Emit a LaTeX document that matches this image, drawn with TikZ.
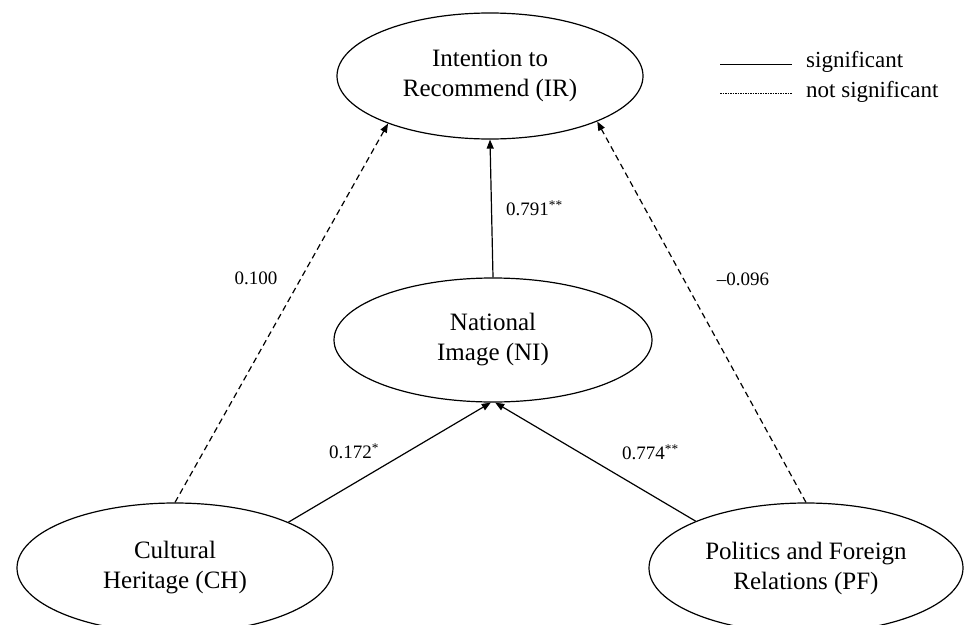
\documentclass[tikz,border=0pt]{standalone}
\usepackage{fontspec}
\setmainfont{Liberation Serif}
\usetikzlibrary{shapes.geometric,arrows.meta}
\begin{document}
\begin{tikzpicture}[x=1pt,y=-1pt,
  construct/.style={draw,line width=1.2pt,ellipse,inner sep=0pt,align=center,font=\fontsize{25}{30}\selectfont},
  pathlabel/.style={font=\fontsize{19}{20}\selectfont,inner sep=0pt},
  legendtext/.style={font=\fontsize{23}{24}\selectfont,inner sep=0pt,anchor=west},
  sig/.style={line width=1.2pt,-{Triangle[length=9pt,width=7pt]}},
  nonsig/.style={line width=1.2pt,dash pattern=on 6pt off 4pt,-{Triangle[length=9pt,width=7pt]}}]
\useasboundingbox (0,0) rectangle (966,624);
\clip (0,0) rectangle (966,624);
\node[construct,minimum width=306pt,minimum height=126pt] (IR) at (490,76) {Intention to\\Recommend (IR)};
\node[construct,minimum width=318pt,minimum height=124pt] (NI) at (493,340) {National\\Image (NI)};
\node[construct,minimum width=316pt,minimum height=130pt] (CH) at (175,568) {Cultural\\Heritage (CH)};
\node[construct,minimum width=314pt,minimum height=130pt] (PF) at (806,568) {Politics and Foreign\\Relations (PF)};
\draw[sig] (NI.north) -- (IR.south);
\draw[sig] (CH.22) -- (NI.268);
\draw[sig] (PF.157) -- (NI.272);
\draw[nonsig] (CH.north) -- (IR.205);
\draw[nonsig] (PF.north) -- (IR.-23);
\node[pathlabel,anchor=west] (l1) at (506,208) {0.791\textsuperscript{**}};
\node[pathlabel] (l2) at (256,278) {0.100};
\node[pathlabel] (l3) at (743,279) {–0.096};
\node[pathlabel,anchor=west] (l4) at (329,451) {0.172\textsuperscript{*}};
\node[pathlabel,anchor=west] (l5) at (622,452) {0.774\textsuperscript{**}};
\coordinate (s1) at (720,64);
\coordinate (s2) at (792,64);
\coordinate (n1) at (720,93);
\coordinate (n2) at (792,93);
\draw[line width=0.8pt] (s1) -- (s2);
\draw[line width=0.8pt,dash pattern=on 1.5pt off 1pt] (n1) -- (n2);
\node[legendtext] (t1) at (806,62) {significant};
\node[legendtext] (t2) at (806,92) {not significant};
\end{tikzpicture}
\end{document}
